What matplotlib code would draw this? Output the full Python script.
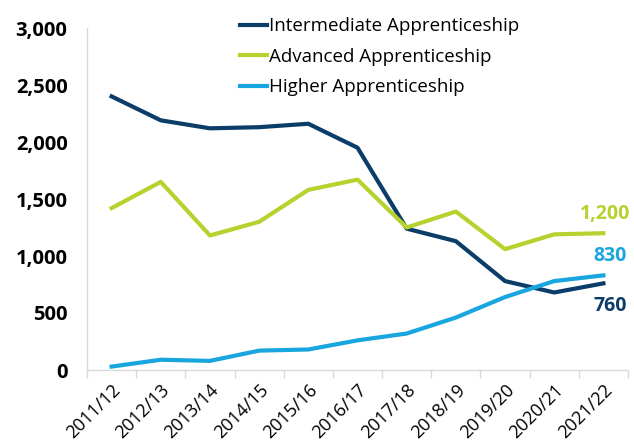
import matplotlib
matplotlib.use("Agg")
import matplotlib.pyplot as plt
import numpy as np

years = ["2011/12", "2012/13", "2013/14", "2014/15", "2015/16", "2016/17",
         "2017/18", "2018/19", "2019/20", "2020/21", "2021/22"]
intermediate = [2400, 2190, 2120, 2130, 2160, 1950, 1240, 1130, 780, 680, 760]
advanced = [1420, 1650, 1180, 1300, 1580, 1670, 1250, 1390, 1060, 1190, 1200]
higher = [30, 90, 80, 170, 180, 260, 320, 460, 640, 780, 830]

navy = "#0B3D68"
lime = "#B5D22E"
sky = "#19A6DE"

plt.rcParams["font.family"] = ["Open Sans", "DejaVu Sans"]

fig = plt.figure(figsize=(6.34, 4.48), dpi=100)
ax = fig.add_axes([87 / 634, 1 - 370 / 448, 541 / 634, 342 / 448])

x = np.arange(len(years))
ax.plot(x, intermediate, color=navy, lw=3, label="Intermediate Apprenticeship")
ax.plot(x, advanced, color=lime, lw=3, label="Advanced Apprenticeship")
ax.plot(x, higher, color=sky, lw=3, label="Higher Apprenticeship")

# value labels at the last year
ax.annotate(f"{advanced[-1]:,}", (x[-1], advanced[-1]), xytext=(19, 14), textcoords="offset points",
            ha="right", va="center", color=lime, fontsize=14, fontweight="bold")
ax.annotate(f"{higher[-1]:,}", (x[-1], higher[-1]), xytext=(17, 14), textcoords="offset points",
            ha="right", va="center", color=sky, fontsize=14, fontweight="bold")
ax.annotate(f"{intermediate[-1]:,}", (x[-1], intermediate[-1]), xytext=(17, -16), textcoords="offset points",
            ha="right", va="center", color=navy, fontsize=14, fontweight="bold")

ax.set_xlim(-0.5, len(years) - 0.5)
ax.set_ylim(0, 3000)
ax.set_yticks(range(0, 3001, 500))
ax.set_yticklabels([f"{v:,}" for v in range(0, 3001, 500)], fontsize=14.5, fontweight="bold")
ax.tick_params(axis="y", length=0, pad=14)

ax.set_xticks(x)
ax.set_xticklabels(years, rotation=45, ha="right", rotation_mode="anchor", fontsize=13)
ax.tick_params(axis="x", which="major", length=0, pad=8)
ax.set_xticks(np.arange(-0.5, len(years), 1), minor=True)
ax.tick_params(axis="x", which="minor", length=6, color="#D9D9D9", width=1)

for side in ["top", "right"]:
    ax.spines[side].set_visible(False)
for side in ["left", "bottom"]:
    ax.spines[side].set_color("#D9D9D9")
    ax.spines[side].set_linewidth(1)

ax.legend(loc="upper left", bbox_to_anchor=(0.283, 1.031), frameon=False, fontsize=13.5,
          handlelength=1.45, handletextpad=0.1, labelspacing=0.66, borderaxespad=0,
          borderpad=0)

fig.savefig("out.png", dpi=100)
